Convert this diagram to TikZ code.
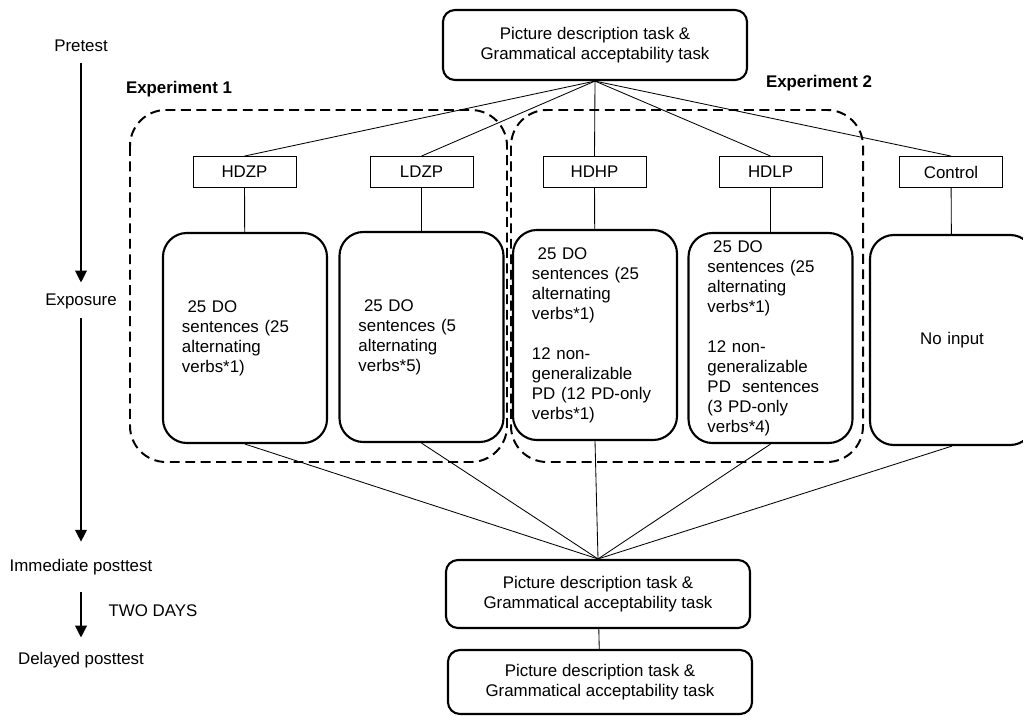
\documentclass[tikz,border=0pt]{standalone}
\usepackage{fontspec}
\setmainfont{Liberation Sans}
\usetikzlibrary{arrows.meta,positioning}

\tikzset{
  every node/.style={font=\fontsize{12}{14.2}\selectfont},
  taskbox/.style={draw, line width=1.5pt, rounded corners=0.3cm, minimum width=7.6cm, minimum height=1.75cm, align=center},
  groupbox/.style={draw, line width=0.6pt, minimum width=2.575cm, minimum height=0.775cm},
  inputbox/.style={draw, line width=1.5pt, rounded corners=0.6cm, minimum width=4.1cm, minimum height=5.25cm, text width=3.15cm, align=left},
  phase/.style={inner sep=0pt, text height=9pt, text depth=3pt},
  expframe/.style={line width=1.4pt, dash pattern=on 7pt off 4pt, rounded corners=0.9cm},
  link/.style={line width=0.6pt},
  timeline/.style={line width=2pt, -{Triangle[length=0.3cm,width=0.28cm]}}
}

\begin{document}
\begin{tikzpicture}[x=0.025cm,y=-0.025cm]
\useasboundingbox (0,0) rectangle (1023,715);

% time line on the left
\node[phase] (pre) at (81,47) {Pretest};
\node[phase] (exp) at (81,301) {Exposure};
\node[phase] (imm) at (81,567) {Immediate posttest};
\node[phase] (del) at (81,660) {Delayed posttest};
\draw[timeline, shorten <=0.19cm, shorten >=0.24cm] (pre) -- (exp);
\draw[timeline, shorten <=0.21cm, shorten >=0.41cm] (exp) -- (imm);
\draw[timeline, shorten <=0.41cm, shorten >=0.34cm] (imm) -- (del);
\node[phase] (days) at (153,612) {TWO DAYS};

% experiment frames
\draw[expframe] (130,110) rectangle (507,462);
\draw[expframe] (511,110) rectangle (863,462);
\node[font=\fontsize{12}{14.2}\selectfont\bfseries] (exp1) at (179,89) {Experiment 1};
\node[font=\fontsize{12}{14.2}\selectfont\bfseries] (exp2) at (819,83) {Experiment 2};

% pretest and posttests
\node[taskbox] (top) at (595,45) {Picture description task \&\\Grammatical acceptability task};
\node[taskbox, minimum height=1.7cm] (post) at (598,594) {Picture description task \&\\Grammatical acceptability task};
\node[taskbox, minimum height=1.6cm] (delay) at (600,682) {Picture description task \&\\Grammatical acceptability task};

% groups
\node[groupbox] (g1) at (244.5,172) {HDZP};
\node[groupbox] (g2) at (421.5,172) {LDZP};
\node[groupbox] (g3) at (594.5,172) {HDHP};
\node[groupbox] (g4) at (770.5,172) {HDLP};
\node[groupbox] (g5) at (951,172) {Control};

% input per group
\node[inputbox] (i1) at (245,338) {\ 25 DO\\sentences (25\\alternating\\verbs*1)};
\node[inputbox] (i2) at (421.5,337) {\ 25 DO\\sentences (5\\alternating\\verbs*5)};
\node[inputbox] (i3) at (595,335) {\ 25 DO\\sentences (25\\alternating\\verbs*1)\\[14.2pt]12 non-\\generalizable\\PD (12 PD-only\\verbs*1)};
\node[inputbox] (i4) at (770.5,338) {\ 25 DO\\sentences (25\\alternating\\verbs*1)\\[14.2pt]12 non-\\generalizable\\PD\ \ sentences\\(3 PD-only\\verbs*4)};
\node[inputbox, align=center] (i5) at (952,340) {No input};

% connectors
\foreach \k in {1,...,5} {
  \draw[link] (top.south) -- (g\k.north);
  \draw[link] (g\k) -- (i\k);
  \draw[link] (i\k.south) -- (post.north);
}
\draw[link] (post) -- (delay);
\end{tikzpicture}
\end{document}
